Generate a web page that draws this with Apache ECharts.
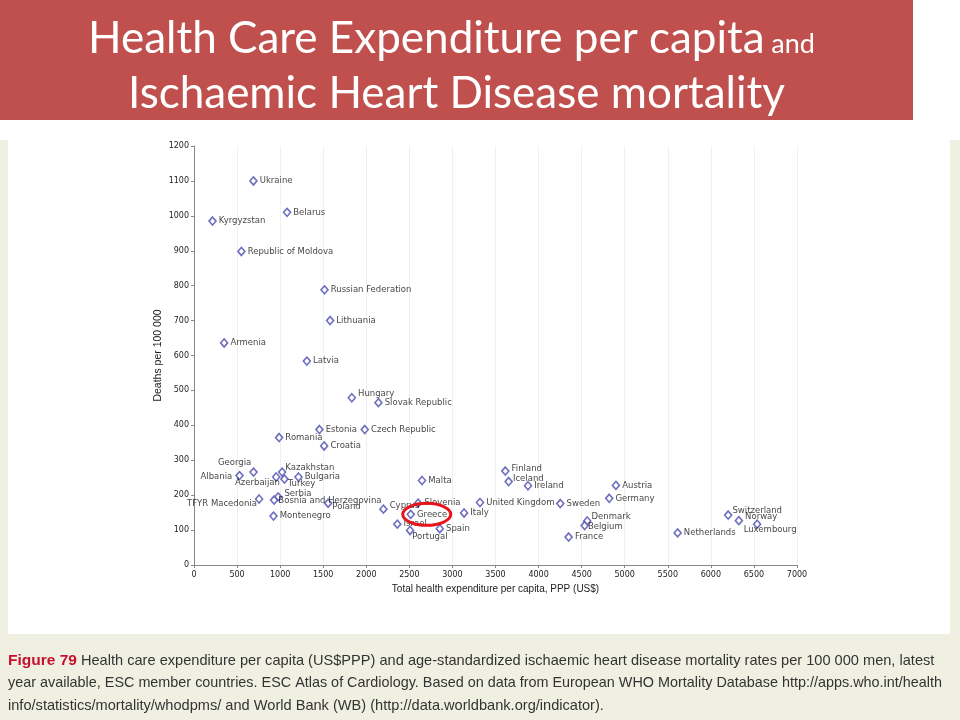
<!DOCTYPE html>
<html><head><meta charset="utf-8">
<script src="https://cdn.jsdelivr.net/npm/echarts@6/dist/echarts.min.js"></script>
<style>html,body{margin:0;padding:0;background:#fff;}#c{width:960px;height:720px;}</style>
</head><body><div id="c"></div>
<script>
const countries = ["Ukraine","Belarus","Kyrgyzstan","Republic of Moldova","Russian Federation","Lithuania","Armenia","Latvia","Hungary","Slovak Republic","Estonia","Czech Republic","Romania","Croatia","Georgia","Albania","Kazakhstan","Azerbaijan","Turkey","Bulgaria","TFYR Macedonia","Serbia","Bosnia and Herzegovina","Poland","Montenegro","Cyprus","Israel","Finland","Malta","Iceland","Ireland","Slovenia","United Kingdom","Sweden","Greece","Italy","Portugal","Spain","Denmark","Belgium","France","Austria","Germany","Switzerland","Norway","Luxembourg","Netherlands"];
const spending = [690,1080,215,550,1515,1580,350,1310,1832,2141,1456,1982,988,1511,691,528,1023,954,1050,1213,756,977,930,1557,923,2199,2360,3614,2647,3653,3877,2601,3320,4252,2516,3135,2508,2853,4565,4535,4349,4898,4820,6201,6325,6537,5614];
const mortality = [1100,1010,985,898,788,700,636,584,479,465,388,388,365,341,266,256,266,252,246,252,189,195,186,177,140,160,117,269,242,239,227,177,179,176,145,149,99,104,126,113,80,228,191,143,127,117,92];
const xTicks = {min:0, max:7000, step:500};
const yTicks = {min:0, max:1200, step:100};
const highlighted = "Greece";

// label placement (style only): [position, dx, dy]
const labelPlace = {
  "Hungary":["right",0,-4],"Georgia":["left",4,-9],"Albania":["left",-1,1],
  "Kazakhstan":["right",-3,-4],"Azerbaijan":["left",10,6],"Turkey":["right",-3,5],
  "TFYR Macedonia":["left",4,5],"Serbia":["right",0,-3],"Bosnia and Herzegovina":["right",-2,1],
  "Poland":["right",-2,4],"Cyprus":["right",0,-3],"Portugal":["right",-4,6],
  "Finland":["right",0,-2],"Iceland":["right",-2,-3],"Denmark":["right",-2,-4],
  "Belgium":["right",-3,1],"Switzerland":["right",-2,-4],"Norway":["right",0,-4],
  "Luxembourg":["bottom",13,-6]
};

const data = countries.map((n,i)=>{
  const p = labelPlace[n] || ["right",0,0];
  return {name:n, value:[spending[i], mortality[i]], label:{position:p[0]}};
});

const chart = echarts.init(document.getElementById('c'), null, {renderer:'canvas'});
const CAP = "Liberation Sans Narrow, Liberation Sans, sans-serif";
const TF = 'Lato, Open Sans, sans-serif';
const plain = v => String(v);
const option = {
  animation:false,
  backgroundColor:'#ffffff',
  graphic:[
    {type:'rect', z:-10, shape:{x:0,y:140,width:960,height:580}, style:{fill:'#f0f0e2'}},
    {type:'rect', z:-9, shape:{x:8,y:140,width:942,height:494}, style:{fill:'#ffffff'}},
    {type:'rect', z:-9, shape:{x:0,y:0,width:913,height:120}, style:{fill:'#c0504d'}},
    {type:'text', left:88, top:17,
      style:{text:'{a|Health Care Expenditure per capita}  {b|and}', rich:{
        a:{fontFamily:TF, fontSize:44, fill:'#fff', fontWeight:'normal'},
        b:{fontFamily:TF, fontSize:27, fill:'#fff', fontWeight:'normal', verticalAlign:'bottom', padding:[0,0,3,0]}}}},
    {type:'text', left:128, top:72,
      style:{text:'Ischaemic Heart Disease mortality', fontFamily:TF, fontSize:44, fill:'#fff', fontWeight:'normal'}},
    {type:'text', left:8, top:653, style:{text:'{r|Figure 79} Health care expenditure per capita (US$PPP) and age-standardized ischaemic heart disease mortality rates per 100 000 men, latest', rich:{r:{fill:'#c8102e', fontWeight:'bold', fontSize:15.5, fontFamily:CAP}}, fill:'#333', fontSize:14.6, fontFamily:CAP}},
    {type:'text', left:8, top:676, style:{text:'year available, ESC member countries. ESC Atlas of Cardiology. Based on data from European WHO Mortality Database http://apps.who.int/health', fill:'#333', fontSize:14.4, fontFamily:CAP}},
    {type:'text', left:8, top:698, style:{text:'info/statistics/mortality/whodpms/ and World Bank (WB) (http://data.worldbank.org/indicator).', fill:'#333', fontSize:14.6, fontFamily:CAP}}
  ],
  grid:{left:194, right:163, top:146, bottom:155, containLabel:false},
  xAxis:{type:'value', min:xTicks.min, max:xTicks.max, interval:xTicks.step,
    name:'Total health expenditure per capita, PPP (US$)', nameLocation:'middle', nameGap:19, nameMoveOverlap:false,
    nameTextStyle:{fontFamily:'Liberation Sans, sans-serif', fontSize:10, color:'#222'},
    axisLine:{show:true, lineStyle:{color:'#888'}},
    axisTick:{show:true, length:3, lineStyle:{color:'#888'}},
    axisLabel:{fontFamily:'DejaVu Sans', fontSize:8, color:'#222', margin:6, formatter:plain},
    splitLine:{show:true, lineStyle:{color:'#f0f0f0'}}},
  yAxis:{type:'value', min:yTicks.min, max:yTicks.max, interval:yTicks.step,
    name:'Deaths per 100 000', nameLocation:'middle', nameGap:30, nameRotate:90, nameMoveOverlap:false,
    nameTextStyle:{fontFamily:'Liberation Sans, sans-serif', fontSize:10.5, color:'#222'},
    axisLine:{show:true, lineStyle:{color:'#888'}},
    axisTick:{show:true, length:3, lineStyle:{color:'#888'}},
    axisLabel:{fontFamily:'DejaVu Sans', fontSize:8, color:'#222', margin:5, formatter:plain},
    splitLine:{show:false}},
  series:[{
    type:'scatter', data:data, symbol:'diamond', symbolSize:[7,8],
    itemStyle:{color:'#ffffff', borderColor:'#4a4ab0', borderWidth:1.6},
    label:{show:true, formatter:'{b}', fontFamily:'DejaVu Sans', fontSize:8.5, color:'#111', distance:2},
    labelLayout:function(params){
      const p = labelPlace[countries[params.dataIndex]];
      return p ? {dx:p[1], dy:p[2], hideOverlap:false} : {hideOverlap:false};
    }
  }]
};
chart.setOption(option);

// highlight ellipse around the highlighted country, placed through the axes
const gi = countries.indexOf(highlighted);
const gp = chart.convertToPixel({seriesIndex:0}, [spending[gi], mortality[gi]]);
chart.setOption({graphic:option.graphic.concat([
  {type:'ellipse', z:20, shape:{cx:gp[0]+16, cy:gp[1], rx:24, ry:11}, style:{fill:'none', stroke:'#e8141c', lineWidth:3}}
])});
</script></body></html>
